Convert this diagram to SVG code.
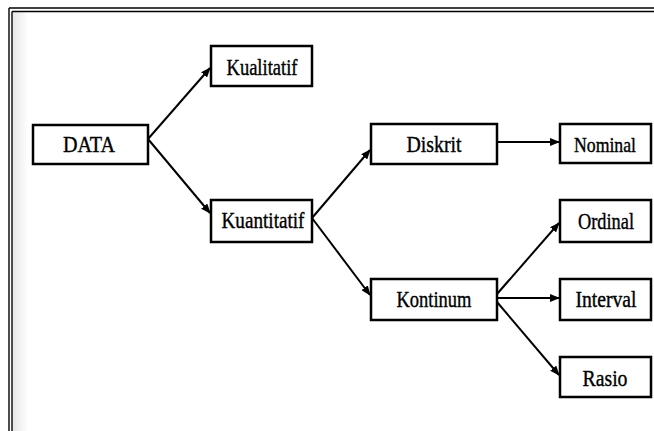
<svg xmlns="http://www.w3.org/2000/svg" width="654" height="431" viewBox="0 0 654 431">
<defs>
<marker id="ah" markerWidth="10" markerHeight="8" refX="9" refY="4" orient="auto" markerUnits="userSpaceOnUse">
<path d="M0,0 L10,4 L0,8 Z" fill="#000"/>
</marker>
<linearGradient id="sh" x1="0" y1="0" x2="1" y2="0">
<stop offset="0" stop-color="#e6e6e6"/>
<stop offset="1" stop-color="#ffffff"/>
</linearGradient>
</defs>
<style>
.box{fill:#fff;stroke:#000;stroke-width:2.5}
.lbl{font-family:"Liberation Serif","Times New Roman",serif;font-size:24px;fill:#000;stroke:#000;stroke-width:0.4;text-anchor:middle}
.con{stroke:#000;stroke-width:2;fill:none;marker-end:url(#ah)}
.frm{stroke:#000;stroke-width:1.4;fill:none}
</style>
<rect width="654" height="431" fill="#fff"/>
<rect x="13" y="12" width="15" height="419" fill="url(#sh)"/>
<g id="frame">
<line class="frm" x1="9" y1="8" x2="654" y2="8"/>
<line class="frm" x1="12" y1="11.5" x2="654" y2="11.5"/>
<line class="frm" x1="9" y1="8" x2="9" y2="431"/>
<line class="frm" x1="12" y1="11.5" x2="12" y2="431"/>
</g>
<g id="connectors">
<line class="con" x1="148" y1="139" x2="210" y2="68"/>
<line class="con" x1="148" y1="139" x2="210" y2="213"/>
<line class="con" x1="312" y1="218" x2="370" y2="150"/>
<line class="con" x1="312" y1="218" x2="370" y2="295"/>
<line class="con" x1="497" y1="142" x2="559" y2="142"/>
<line class="con" x1="497" y1="294" x2="559" y2="223"/>
<line class="con" x1="497" y1="298" x2="559" y2="298"/>
<line class="con" x1="497" y1="302" x2="559" y2="375"/>
</g>
<g id="node-data">
<rect class="box" x="33" y="125" width="115" height="39"/>
<text class="lbl" x="89" y="152" textLength="52" lengthAdjust="spacingAndGlyphs">DATA</text>
</g>
<g id="node-kualitatif">
<rect class="box" x="211" y="46" width="101" height="40"/>
<text class="lbl" x="262" y="75" textLength="71" lengthAdjust="spacingAndGlyphs">Kualitatif</text>
</g>
<g id="node-kuantitatif">
<rect class="box" x="211" y="200" width="101" height="42"/>
<text class="lbl" x="263" y="228" textLength="83" lengthAdjust="spacingAndGlyphs">Kuantitatif</text>
</g>
<g id="node-diskrit">
<rect class="box" x="371" y="124" width="126" height="40"/>
<text class="lbl" x="434" y="152" textLength="55" lengthAdjust="spacingAndGlyphs">Diskrit</text>
</g>
<g id="node-kontinum">
<rect class="box" x="371" y="279" width="126" height="41"/>
<text class="lbl" x="434" y="307" textLength="75" lengthAdjust="spacingAndGlyphs">Kontinum</text>
</g>
<g id="node-nominal">
<rect class="box" x="560" y="124" width="91" height="39"/>
<text class="lbl" x="605" y="152" style="font-size:22px" textLength="62" lengthAdjust="spacingAndGlyphs">Nominal</text>
</g>
<g id="node-ordinal">
<rect class="box" x="560" y="200" width="91" height="42"/>
<text class="lbl" x="606" y="229" textLength="56" lengthAdjust="spacingAndGlyphs">Ordinal</text>
</g>
<g id="node-interval">
<rect class="box" x="560" y="279" width="91" height="41"/>
<text class="lbl" x="606" y="307" textLength="61" lengthAdjust="spacingAndGlyphs">Interval</text>
</g>
<g id="node-rasio">
<rect class="box" x="560" y="357" width="91" height="40"/>
<text class="lbl" x="605" y="386" textLength="45" lengthAdjust="spacingAndGlyphs">Rasio</text>
</g>
</svg>
